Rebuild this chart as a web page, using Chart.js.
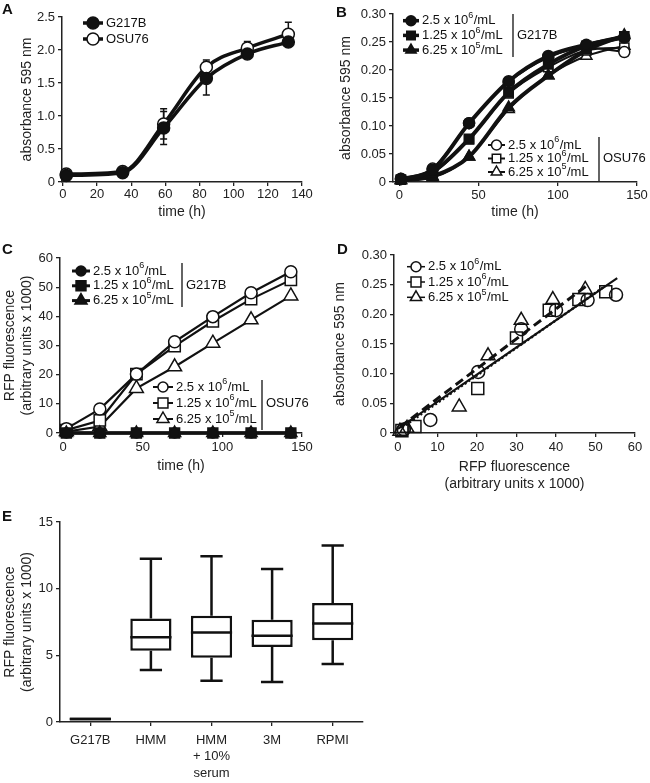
<!DOCTYPE html>
<html lang="en">
<head>
<meta charset="UTF-8">
<title>Growth and RFP fluorescence</title>
<script src="https://cdn.jsdelivr.net/npm/chart.js"></script>
<style>
  body { margin: 0; background: #fff; font-family: "Liberation Sans", Arial, sans-serif; }
  #fig { position: relative; width: 650px; height: 783px; overflow: hidden; background: #fff; }
  canvas { position: absolute; }
  .letra { position: absolute; font-weight: bold; font-size: 15px; line-height: 1; color: #111; }
</style>
</head>
<body>
<div id="fig">
  <canvas id="grafA" width="325" height="226" style="left:0;top:0"></canvas>
  <canvas id="grafB" width="325" height="226" style="left:325px;top:0"></canvas>
  <canvas id="grafC" width="325" height="244" style="left:0;top:236px"></canvas>
  <canvas id="grafD" width="325" height="264" style="left:325px;top:236px"></canvas>
  <canvas id="grafE" width="400" height="283" style="left:0;top:500px"></canvas>
  <div class="letra" style="left:2px;top:1px">A</div>
  <div class="letra" style="left:336px;top:4px">B</div>
  <div class="letra" style="left:2px;top:241px">C</div>
  <div class="letra" style="left:337px;top:241px">D</div>
  <div class="letra" style="left:2px;top:508px">E</div>
</div>

<script>
    // ---- dados ----
    var cepas = ['G217B', 'OSU76'];
    var concentracoes = ['2.5 x 10⁶/mL', '1.25 x 10⁶/mL', '6.25 x 10⁵/mL'];

    // A: crescimento (absorbance 595 nm)
    var tempoA = [2, 35, 59, 84, 108, 132];
    var absG217bA = [0.10, 0.14, 0.82, 1.57, 1.94, 2.12];
    var absOsu76A = [0.12, 0.16, 0.88, 1.74, 2.03, 2.24];
    var erroG217bA = [0, 0, 0.25, 0.25, 0.04, 0.04];
    var erroOsu76A = [0, 0, 0.23, 0.11, 0.10, 0.18];
    var marcasXA = [0, 20, 40, 60, 80, 100, 120, 140];
    var marcasYA = [0, 0.5, 1.0, 1.5, 2.0, 2.5];

    // B: absorbance por inoculo
    var tempoB = [1, 21, 44, 69, 94, 118, 142];
    var absG217bB = [
        [0.005, 0.022, 0.105, 0.180, 0.225, 0.245, 0.258],
        [0.004, 0.018, 0.077, 0.160, 0.210, 0.243, 0.260],
        [0.003, 0.010, 0.045, 0.133, 0.190, 0.235, 0.262]
    ];
    var absOsu76B = [
        [0.006, 0.024, 0.105, 0.178, 0.222, 0.240, 0.232],
        [0.004, 0.016, 0.076, 0.158, 0.205, 0.235, 0.240],
        [0.003, 0.008, 0.045, 0.130, 0.190, 0.225, 0.243]
    ];
    var marcasXB = [0, 50, 100, 150];
    var marcasYB = [0, 0.05, 0.10, 0.15, 0.20, 0.25, 0.30];

    // C: RFP fluorescence
    var tempoC = [2, 23, 46, 70, 94, 118, 143];
    var rfpG217bC = [
        [0, 0, 0, 0, 0, 0, 0],
        [0, 0, 0, 0, 0, 0, 0],
        [0, 0, 0, 0, 0, 0, 0]
    ];
    var rfpOsu76C = [
        [1.5, 8.2, 20.2, 31.3, 39.9, 48.1, 55.3],
        [1.0, 4.3, 20.2, 29.8, 38.3, 45.9, 52.5],
        [0.5, 2.2, 15.3, 22.7, 30.8, 38.8, 47.0]
    ];
    var marcasXC = [0, 50, 100, 150];
    var marcasYC = [0, 10, 20, 30, 40, 50, 60];

    // D: absorbance x RFP
    var rfpD = [
        [1.5, 8.2, 20.3, 31.2, 40.0, 48.0, 55.2],
        [1.0, 4.3, 20.2, 30.0, 38.3, 45.8, 52.6],
        [0.5, 2.3, 15.5, 22.8, 31.2, 39.2, 47.4]
    ];
    var absD = [
        [0.006, 0.022, 0.103, 0.175, 0.207, 0.224, 0.233],
        [0.004, 0.011, 0.075, 0.160, 0.207, 0.225, 0.238],
        [0.003, 0.008, 0.044, 0.130, 0.190, 0.225, 0.242]
    ];
    var ajusteXD = [[0, 55.5], [1, 52.5], [0.5, 47.5]];
    var ajusteYD = [[0.007, 0.261], [0.009, 0.248], [0.010, 0.247]];
    var marcasXD = [0, 10, 20, 30, 40, 50, 60];
    var marcasYD = [0, 0.05, 0.10, 0.15, 0.20, 0.25, 0.30];

    // E: box plot
    var meios = ['G217B', 'HMM', ['HMM', '+ 10%', 'serum'], '3M', 'RPMI'];
    var caixaMin = [0.12, 3.9, 3.1, 3.0, 4.35];
    var caixaQ1 = [0.12, 5.35, 4.82, 5.62, 6.14];
    var caixaMediana = [0.22, 6.36, 6.71, 6.46, 7.39];
    var caixaQ3 = [0.33, 7.76, 7.96, 7.66, 8.93];
    var caixaMax = [0.33, 12.25, 12.43, 11.48, 13.23];
    var marcasYE = [0, 5, 10, 15];

    // ---- estilo ----
    var FONTE = '"Liberation Sans", Arial, sans-serif';
    var PRETO = '#111';
    var TAM_TITULO = 14;
    var LH_TITULO = TAM_TITULO * 1.25;
    var estilos = ['circle', 'rect', 'triangle'];

    // calcula padding e tamanhos das escalas para posicionar a area do grafico
    function moldura(caixa, area, yTituloX, xTituloY, nLinhasX) {
        var lh = LH_TITULO;
        var padL = yTituloX - caixa[0] - lh / 2;
        var padB = xTituloY ? caixa[1] + caixa[3] - xTituloY - lh / 2 - lh * (nLinhasX - 1) : 0;
        return {
            padding: { left: padL, top: area[1] - caixa[1], right: caixa[0] + caixa[2] - area[2], bottom: padB },
            yLarg: area[0] - caixa[0] - padL,
            xAlt: caixa[1] + caixa[3] - padB - area[3]
        };
    }

    function escala(min, max, marcas, casas, titulo, padTick, tamanho, horizontal) {
        return {
            type: 'linear', min: min, max: max,
            afterBuildTicks: function (s) { s.ticks = marcas.map(function (v) { return { value: v }; }); },
            afterFit: function (s) { if (horizontal) s.height = tamanho; else s.width = tamanho; },
            ticks: {
                autoSkip: false, maxRotation: 0, padding: padTick, color: '#222',
                font: { family: FONTE, size: 13 },
                callback: function (v) { return v === 0 ? '0' : v.toFixed(casas); }
            },
            grid: { drawOnChartArea: false, drawTicks: true, tickLength: 4, color: '#222', lineWidth: 1.3 },
            border: { display: true, color: '#222', width: 1.5 },
            title: {
                display: !!titulo, text: titulo, color: '#222', padding: 0,
                font: { family: FONTE, size: TAM_TITULO, lineHeight: 1.25 }
            }
        };
    }

    function opcoes(m, x, y) {
        return {
            responsive: false, animation: false, events: [],
            layout: { padding: m.padding },
            plugins: { legend: { display: false }, tooltip: { enabled: false } },
            scales: { x: x, y: y }
        };
    }

    function serie(xs, ys, estilo, raio, cheio, espessura, curva) {
        return {
            data: xs.map(function (v, i) { return { x: v, y: ys[i] }; }),
            borderColor: PRETO, borderWidth: espessura, showLine: espessura > 0,
            pointStyle: estilo, pointRadius: raio, pointBorderWidth: 1.5,
            pointBackgroundColor: cheio === null ? 'rgba(0,0,0,0)' : (cheio ? PRETO : '#fff'),
            pointBorderColor: PRETO,
            cubicInterpolationMode: curva ? 'monotone' : 'default', tension: 0,
            clip: false
        };
    }

    function marcador(ctx, estilo, x, y, r, cheio, lw) {
        ctx.beginPath();
        if (estilo === 'circle') {
            ctx.arc(x, y, r, 0, Math.PI * 2);
        } else if (estilo === 'rect') {
            var s = r * Math.SQRT1_2;
            ctx.rect(x - s, y - s, 2 * s, 2 * s);
        } else {
            ctx.moveTo(x, y - r);
            ctx.lineTo(x + r * 0.866, y + r * 0.5);
            ctx.lineTo(x - r * 0.866, y + r * 0.5);
            ctx.closePath();
        }
        ctx.fillStyle = cheio ? PRETO : '#fff';
        ctx.fill();
        ctx.lineWidth = lw;
        ctx.strokeStyle = PRETO;
        ctx.stroke();
    }

    // escreve texto com expoentes (⁵ ⁶) menores e elevados
    function textoExpoente(ctx, texto, x, y) {
        var sup = { '⁵': '5', '⁶': '6' };
        var cx = x;
        for (var i = 0; i < texto.length; i++) {
            var c = texto[i];
            if (sup[c]) {
                ctx.font = '9px ' + FONTE;
                ctx.fillText(sup[c], cx, y - 5);
                cx += ctx.measureText(sup[c]).width + 0.5;
                ctx.font = '13px ' + FONTE;
            } else {
                ctx.fillText(c, cx, y);
                cx += ctx.measureText(c).width;
            }
        }
    }

    function legenda(grupos) {
        return {
            id: 'legendaFig',
            afterDraw: function (chart) {
                var ctx = chart.ctx;
                ctx.save();
                ctx.textBaseline = 'middle';
                ctx.font = '13px ' + FONTE;
                grupos.forEach(function (g) {
                    g.itens.forEach(function (it, i) {
                        var y = g.y + i * g.passo;
                        ctx.strokeStyle = PRETO;
                        ctx.lineWidth = g.espessura;
                        ctx.beginPath();
                        ctx.moveTo(g.x, y);
                        ctx.lineTo(g.x + g.comp, y);
                        ctx.stroke();
                        marcador(ctx, it.estilo, g.x + g.comp / 2, y, it.raio, g.cheio, 1.5);
                        ctx.fillStyle = PRETO;
                        ctx.font = '13px ' + FONTE;
                        textoExpoente(ctx, it.texto, g.x + g.comp + 3, y);
                    });
                    if (g.chave) {
                        ctx.strokeStyle = PRETO;
                        ctx.lineWidth = 1.3;
                        ctx.beginPath();
                        ctx.moveTo(g.chave.x, g.chave.y1);
                        ctx.lineTo(g.chave.x, g.chave.y2);
                        ctx.stroke();
                        ctx.fillStyle = PRETO;
                        ctx.fillText(g.chave.texto, g.chave.x + 4, g.y + g.passo);
                    }
                });
                ctx.restore();
            }
        };
    }

    function barrasErro(series) {
        return {
            id: 'barrasErro',
            beforeDatasetsDraw: function (chart) {
                var ctx = chart.ctx, sx = chart.scales.x, sy = chart.scales.y;
                ctx.save();
                ctx.strokeStyle = PRETO;
                ctx.lineWidth = 1.5;
                series.forEach(function (s) {
                    s.x.forEach(function (t, i) {
                        if (!s.e[i]) return;
                        var px = sx.getPixelForValue(t);
                        var y1 = sy.getPixelForValue(s.y[i] - s.e[i]);
                        var y2 = sy.getPixelForValue(s.y[i] + s.e[i]);
                        ctx.beginPath();
                        ctx.moveTo(px, y1); ctx.lineTo(px, y2);
                        ctx.moveTo(px - 3.5, y1); ctx.lineTo(px + 3.5, y1);
                        ctx.moveTo(px - 3.5, y2); ctx.lineTo(px + 3.5, y2);
                        ctx.stroke();
                    });
                });
                ctx.restore();
            }
        };
    }

    var bigodes = {
        id: 'bigodes',
        afterDatasetsDraw: function (chart) {
            var ctx = chart.ctx, sy = chart.scales.y;
            var meta = chart.getDatasetMeta(0);
            ctx.save();
            ctx.strokeStyle = PRETO;
            ctx.lineWidth = 2.5;
            meta.data.forEach(function (barra, i) {
                var x = barra.x, w = barra.width, c = w * 0.27;
                var yMin = sy.getPixelForValue(caixaMin[i]), yQ1 = sy.getPixelForValue(caixaQ1[i]);
                var yQ3 = sy.getPixelForValue(caixaQ3[i]), yMax = sy.getPixelForValue(caixaMax[i]);
                var yMed = sy.getPixelForValue(caixaMediana[i]);
                ctx.beginPath();
                if (caixaMax[i] > caixaQ3[i]) {
                    ctx.moveTo(x, yQ3); ctx.lineTo(x, yMax);
                    ctx.moveTo(x - c, yMax); ctx.lineTo(x + c, yMax);
                }
                if (caixaMin[i] < caixaQ1[i]) {
                    ctx.moveTo(x, yQ1); ctx.lineTo(x, yMin);
                    ctx.moveTo(x - c, yMin); ctx.lineTo(x + c, yMin);
                }
                ctx.moveTo(x - w / 2, yMed); ctx.lineTo(x + w / 2, yMed);
                ctx.stroke();
            });
            ctx.restore();
        }
    };

    // ---- A ----
    var mA = moldura([0, 0, 325, 226], [62, 17, 302, 182], 27, 212, 1);
    new Chart(document.getElementById('grafA'), {
        type: 'line',
        data: {
            datasets: [
                serie(tempoA, absG217bA, 'circle', 6, true, 3.5, true),
                serie(tempoA, absOsu76A, 'circle', 6, false, 3.5, true)
            ]
        },
        options: opcoes(mA,
            escala(-0.5, 140, marcasXA, 0, 'time (h)', 1, mA.xAlt, true),
            escala(0, 2.5, marcasYA, 1, 'absorbance 595 nm', 3, mA.yLarg, false)),
        plugins: [
            barrasErro([
                { x: tempoA, y: absG217bA, e: erroG217bA },
                { x: tempoA, y: absOsu76A, e: erroOsu76A }
            ]),
            legenda([{
                x: 83, y: 23, passo: 16, comp: 20, espessura: 3.5, cheio: true,
                itens: [{ texto: cepas[0], estilo: 'circle', raio: 6 }]
            }, {
                x: 83, y: 39, passo: 16, comp: 20, espessura: 3.5, cheio: false,
                itens: [{ texto: cepas[1], estilo: 'circle', raio: 6 }]
            }])
        ]
    });

    // ---- B ----
    var raiosB = [5.5, 6.5, 6.5];
    var conjB = [];
    absG217bB.forEach(function (ys, i) { conjB.push(serie(tempoB, ys, estilos[i], raiosB[i], true, 4, true)); });
    absOsu76B.forEach(function (ys, i) { conjB.push(serie(tempoB, ys, estilos[i], raiosB[i], false, 2, true)); });
    var mB = moldura([325, 0, 325, 226], [393, 14, 637, 182], 346, 212, 1);
    new Chart(document.getElementById('grafB'), {
        type: 'line',
        data: { datasets: conjB },
        options: opcoes(mB,
            escala(-4, 150, marcasXB, 0, 'time (h)', 2, mB.xAlt, true),
            escala(0, 0.30, marcasYB, 2, 'absorbance 595 nm', 3, mB.yLarg, false)),
        plugins: [legenda([{
            x: 78, y: 20.7, passo: 14.7, comp: 16, espessura: 3.5, cheio: true,
            chave: { x: 188, y1: 14, y2: 57, texto: cepas[0] },
            itens: concentracoes.map(function (t, i) { return { texto: t, estilo: estilos[i], raio: raiosB[i] - 0.5 }; })
        }, {
            x: 163, y: 145, passo: 13.5, comp: 17, espessura: 2, cheio: false,
            chave: { x: 274, y1: 137, y2: 181, texto: cepas[1] },
            itens: concentracoes.map(function (t, i) { return { texto: t, estilo: estilos[i], raio: raiosB[i] - 0.5 }; })
        }])]
    });

    // ---- C ----
    var raiosC = [6, 8, 8];
    var ordemFilled = [0, 2, 1];
    var conjC = [];
    ordemFilled.forEach(function (i) { conjC.push(serie(tempoC, rfpG217bC[i], estilos[i], raiosC[i] - 1, true, 3, false)); });
    rfpOsu76C.forEach(function (ys, i) { conjC.push(serie(tempoC, ys, estilos[i], raiosC[i], false, 2.2, false)); });
    var mC = moldura([0, 236, 325, 244], [60, 258, 302, 433], 10, 466, 1);
    new Chart(document.getElementById('grafC'), {
        type: 'line',
        data: { datasets: conjC },
        options: opcoes(mC,
            escala(-2, 150, marcasXC, 0, 'time (h)', 3, mC.xAlt, true),
            escala(0, 60, marcasYC, 0, ['RFP fluorescence', '(arbitrary units x 1000)'], 3, mC.yLarg, false)),
        plugins: [legenda([{
            x: 72, y: 35, passo: 14.8, comp: 18, espessura: 3, cheio: true,
            chave: { x: 182, y1: 27, y2: 71, texto: cepas[0] },
            itens: concentracoes.map(function (t, i) { return { texto: t, estilo: estilos[i], raio: raiosC[i] - 1 }; })
        }, {
            x: 153, y: 151, passo: 16, comp: 20, espessura: 2, cheio: false,
            chave: { x: 262, y1: 144, y2: 194, texto: cepas[1] },
            itens: concentracoes.map(function (t, i) { return { texto: t, estilo: estilos[i], raio: raiosC[i] - 1 }; })
        }])]
    });

    // ---- D ----
    var raiosD = [6.5, 8.5, 8];
    var tracos = [[], [2, 2.5], [9, 5]];
    var espessurasAjuste = [2.2, 2.5, 3];
    var conjD = [];
    ajusteXD.forEach(function (xs, i) {
        var s = serie(xs, ajusteYD[i], 'circle', 0, true, espessurasAjuste[i], false);
        s.borderDash = tracos[i];
        conjD.push(s);
    });
    rfpD.forEach(function (xs, i) { conjD.push(serie(xs, absD[i], estilos[i], raiosD[i], null, 0, false)); });
    var mD = moldura([325, 236, 325, 264], [394, 255, 635, 433], 340, 467, 2);
    new Chart(document.getElementById('grafD'), {
        type: 'line',
        data: { datasets: conjD },
        options: opcoes(mD,
            escala(-1, 60, marcasXD, 0, ['RFP fluorescence', '(arbitrary units x 1000)'], 3, mD.xAlt, true),
            escala(0, 0.30, marcasYD, 2, 'absorbance 595 nm', 3, mD.yLarg, false)),
        plugins: [legenda([{
            x: 82, y: 30.7, passo: 15.3, comp: 18, espessura: 1.5, cheio: false,
            itens: concentracoes.map(function (t, i) { return { texto: t, estilo: estilos[i], raio: raiosD[i] - 1.5 }; })
        }])]
    });

    // ---- E ----
    var mE = moldura([0, 500, 400, 283], [60, 522, 363, 722], 10, 0, 1);
    var escalaXE = {
        type: 'category', offset: true,
        afterFit: function (s) { s.height = mE.xAlt; },
        ticks: {
            autoSkip: false, maxRotation: 0, padding: 6, color: '#222',
            font: { family: FONTE, size: 13, lineHeight: 1.27 }
        },
        grid: { offset: false, drawOnChartArea: false, drawTicks: true, tickLength: 4, color: '#222', lineWidth: 1.3 },
        border: { display: true, color: '#222', width: 1.5 }
    };
    new Chart(document.getElementById('grafE'), {
        type: 'bar',
        data: {
            labels: meios,
            datasets: [{
                data: caixaQ1.map(function (q, i) { return [q, caixaQ3[i]]; }),
                backgroundColor: '#fff', borderColor: PRETO, borderWidth: 2.5,
                borderSkipped: false, barPercentage: 0.68, categoryPercentage: 1
            }]
        },
        options: opcoes(mE, escalaXE,
            escala(0, 15, marcasYE, 0, ['RFP fluorescence', '(arbitrary units x 1000)'], 3, mE.yLarg, false)),
        plugins: [bigodes]
    });
</script>
</body>
</html>
